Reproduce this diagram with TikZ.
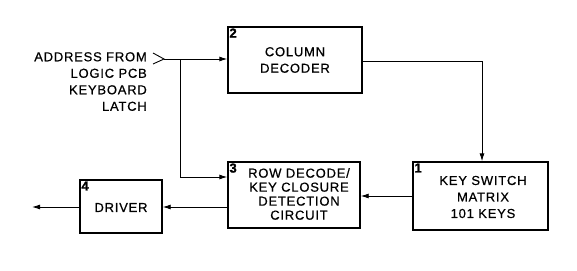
\documentclass[tikz,border=0pt]{standalone}
\usepackage{fontspec}
\setmainfont{Liberation Sans}[LetterSpace=6,FakeBold=0.6]
\newfontfamily\numfont{Liberation Sans}[FakeBold=1.5]
\usetikzlibrary{arrows.meta}
\begin{document}
\begin{tikzpicture}[x=1pt,y=-1pt,
  blk/.style={draw,line width=1.4pt,inner sep=0pt},
  num/.style={font=\fontsize{13}{13}\numfont\bfseries,anchor=north west,inner sep=0pt},
  lbl/.style={font=\fontsize{13}{16.5}\selectfont,align=center,inner sep=0pt},
  conn/.style={line width=0.9pt,-{Latex[length=8pt,width=5pt]}},
  wire/.style={line width=0.9pt}]
\useasboundingbox (0,0) rectangle (577,270);
% boxes
\node[blk,minimum width=134pt,minimum height=66pt] (b2) at (295,60) {};
\node[blk,minimum width=135pt,minimum height=68pt] (b1) at (480.5,196) {};
\node[blk,minimum width=132pt,minimum height=66pt] (b3) at (294,195) {};
\node[blk,minimum width=82pt,minimum height=53pt] (b4) at (121,206.5) {};
% numbers
\node[num] (n2) at ([shift={(2,2)}]b2.north west) {2};
\node[num] (n1) at ([shift={(2,2)}]b1.north west) {1};
\node[num] (n3) at ([shift={(2,2)}]b3.north west) {3};
\node[num] (n4) at ([shift={(2,2)}]b4.north west) {4};
% labels
\node[lbl] (t2) at (295,60) {COLUMN\\DECODER};
\node[lbl] (t1) at (483,197) {KEY SWITCH\\MATRIX\\101 KEYS};
\node[lbl,font=\fontsize{13}{14}\selectfont] (t3) at (299,194) {ROW DECODE/\\KEY CLOSURE\\DETECTION\\CIRCUIT};
\node[lbl] (t4) at (121,207.5) {DRIVER};
\node[lbl,align=right,anchor=north east] (tin) at (147,52) {ADDRESS FROM\\LOGIC PCB\\KEYBOARD\\LATCH};
% input chevron
\coordinate (ct) at (153,53);
\coordinate (cp) at (164,59);
\coordinate (cb) at (153,64);
\coordinate (j) at (180,59);
\draw[wire] (ct) -- (cp) -- (cb);
\draw[conn] (cp) -- (b2.west |- cp);
\draw[conn] (j) |- (b3.west |- 0,177);
% column decoder to matrix
\draw[conn] (b2.east |- 0,61) -| (b1.north -| 482,0);
% matrix to row decode
\draw[conn] (b1.west |- 0,196) -- (b3.east |- 0,196);
% row decode to driver
\draw[conn] (b3.west |- 0,207) -- (b4.east |- 0,207);
% driver output
\coordinate (out) at (32,207);
\draw[conn] (b4.west |- 0,207) -- (out);
\end{tikzpicture}
\end{document}
